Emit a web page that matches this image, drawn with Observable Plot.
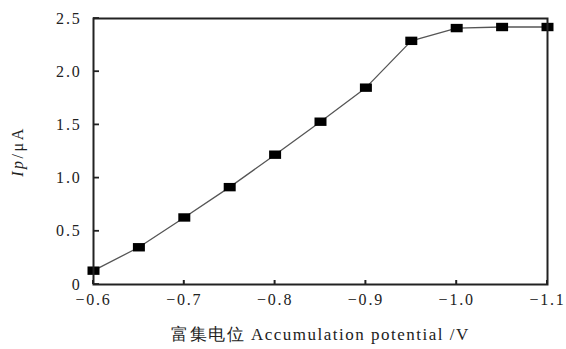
<!DOCTYPE html>
<html>
<head>
<meta charset="utf-8">
<script src="https://cdn.jsdelivr.net/npm/d3@7"></script>
<script src="https://cdn.jsdelivr.net/npm/@observablehq/plot@0.6"></script>
<style>
html,body{margin:0;padding:0;background:#fff;}
svg{font-family:"Liberation Serif","DejaVu Serif",serif;}
svg g[aria-label="x-axis tick label"] text, svg g[aria-label="y-axis tick label"] text{letter-spacing:1.8px;}
svg g[aria-label="x-axis label"] text{letter-spacing:1.5px;}
svg g[aria-label="y-axis label"] text{letter-spacing:2.5px;}
</style>
</head>
<body>
<div id="chart"></div>
<script>
const potential = [-0.6, -0.65, -0.7, -0.75, -0.8, -0.85, -0.9, -0.95, -1.0, -1.05, -1.1];
const current = [0.13, 0.35, 0.63, 0.915, 1.22, 1.53, 1.85, 2.29, 2.41, 2.42, 2.42];
const xTicks = [-0.6, -0.7, -0.8, -0.9, -1.0, -1.1];
const xTickLabels = ["\u22120.6", "\u22120.7", "\u22120.8", "\u22120.9", "\u22121.0", "\u22121.1"];
const yTicks = [0, 0.5, 1.0, 1.5, 2.0, 2.5];
const yTickLabels = ["0", "0.5", "1.0", "1.5", "2.0", "2.5"];
const xLabel = "富集电位 Accumulation potential /V";
const yLabel = "Ip/μA";

const data = potential.map((p, i) => ({p, c: current[i]}));

const rectSymbol = {
  draw(context, size) {
    const w = 6, h = 4.2;
    context.moveTo(-w, -h);
    context.lineTo(w, -h);
    context.lineTo(w, h);
    context.lineTo(-w, h);
    context.closePath();
  }
};

const chart = Plot.plot({
  width: 566,
  height: 349,
  marginLeft: 93,
  marginRight: 19,
  marginTop: 18,
  marginBottom: 65,
  style: {fontFamily: "Liberation Serif, serif", fontSize: "16px", background: "#fff"},
  x: {domain: [-0.6, -1.1]},
  y: {domain: [0, 2.5]},
  marks: [
    Plot.axisX({
      ticks: xTicks,
      tickFormat: (d) => xTickLabels[xTicks.indexOf(d)],
      tickSize: 0,
      tickPadding: 9,
      label: xLabel,
      labelAnchor: "center",
      labelOffset: 55,
      labelArrow: "none",
      fontSize: 16,
      fill: "#222"
    }),
    Plot.axisY({
      ticks: yTicks,
      tickFormat: d => yTickLabels[yTicks.indexOf(d)],
      tickSize: 0,
      tickPadding: 12,
      label: yLabel,
      labelAnchor: "center",
      labelOffset: 82,
      labelArrow: "none",
      fontSize: 16,
      fill: "#222"
    }),
    Plot.line(data, {x: "p", y: "c", curve: "linear", stroke: "#555", strokeWidth: 1.3}),
    Plot.dot(data, {x: "p", y: "c", symbol: rectSymbol, r: 5, fill: "#000", stroke: "none"}),
    Plot.frame({stroke: "#222", strokeWidth: 2})
  ]
});
document.getElementById("chart").appendChild(chart);

// inward ticks drawn with the chart's own scales
const sx = chart.scale("x"), sy = chart.scale("y");
const x0 = sx.apply(xTicks[0]);
const y0 = sy.apply(yTicks[0]);
const tg = d3.select(chart).append("g").attr("stroke", "#222").attr("fill", "none");
yTicks.forEach(v => {
  const y = sy.apply(v);
  tg.append("path").attr("d", `M${x0},${y}h6`).attr("stroke-width", 1.8);
});
xTicks.forEach(v => {
  const x = sx.apply(v);
  tg.append("path").attr("d", `M${x},${y0}v-4`).attr("stroke-width", 2);
});

chart.querySelectorAll('g[aria-label="x-axis label"] text').forEach(t => t.setAttribute("font-size", "17"));

// italicize "Ip" in y label
const yl = chart.querySelector('g[aria-label="y-axis label"] text');
if (yl) {
  const t = yl.textContent;
  yl.textContent = "";
  const a = document.createElementNS("http://www.w3.org/2000/svg", "tspan");
  a.setAttribute("font-style", "italic");
  a.textContent = t.slice(0, 2);
  const b = document.createElementNS("http://www.w3.org/2000/svg", "tspan");
  b.textContent = t.slice(2);
  yl.appendChild(a);
  yl.appendChild(b);
}
</script>
</body>
</html>
